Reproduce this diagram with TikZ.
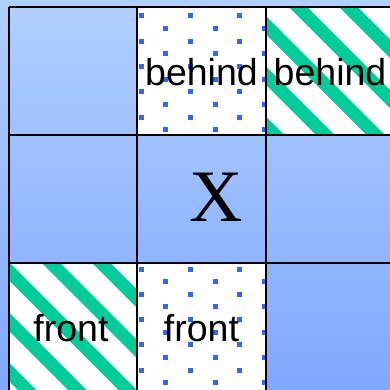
\documentclass[tikz,border=0pt]{standalone}
\usepackage{fontspec}
\setmainfont{Liberation Sans}
\newfontfamily\serifX{Liberation Serif}
\definecolor{bgtop}{RGB}{176,208,255}
\definecolor{bgbot}{RGB}{128,168,255}
\definecolor{stripegreen}{RGB}{0,204,153}
\definecolor{dotblue}{RGB}{51,102,255}
\tikzset{
  gridline/.style={draw=black,line width=2.6pt},
  label/.style={anchor=base,inner sep=0pt,font=\fontsize{37.5}{37.5}\selectfont},
  bigx/.style={anchor=base,inner sep=0pt,font=\serifX\fontsize{74}{74}\selectfont},
  stripe/.style={stripegreen,line width=13pt},
  dotsq/.style={fill=dotblue},
}
\begin{document}
\begin{tikzpicture}[x=1pt,y=-1pt]
\useasboundingbox (0,0) rectangle (390,390);
\clip (0,0) rectangle (390,390);
% background gradient
\shade[top color=bgtop,bottom color=bgbot] (0,0) rectangle (390,390);
% white patterned cells
\fill[white] (137,7) rectangle (266,135);
\fill[white] (266,7) rectangle (394,135);
\fill[white] (9,263) rectangle (137,391);
\fill[white] (137,263) rectangle (266,391);
% stripes
\begin{scope}
\clip (266,7) rectangle (394,135) (9,263) rectangle (137,391);
\foreach \n in {-16,...,4}{
  \pgfmathsetmacro{\c}{291+50.3*\n}
  \draw[stripe] (\c-20,-20) -- (\c+420,420);
}
\end{scope}
% dots
\begin{scope}
\clip (137,7) rectangle (266,135) (137,263) rectangle (266,391);
\foreach \k in {0,...,5}{
  \pgfmathsetmacro{\xx}{141+24.7*\k}
  \pgfmathsetmacro{\off}{mod(\k,2)==0 ? 16 : 28.6}
  \foreach \j in {-1,...,16}{
    \pgfmathsetmacro{\yy}{\off+25.3*\j}
    \fill[dotsq] (\xx-2.5,\yy-2.5) rectangle (\xx+2.5,\yy+2.5);
  }
}
\end{scope}
% grid
\foreach \x in {9,137,266,394} \draw[gridline] (\x,7) -- (\x,400);
\foreach \y in {7,135,263,391} \draw[gridline] (9,\y) -- (400,\y);
% texts
\node[label] (b1) at (201.5,86) {behind};
\node[label] (b2) at (330,86) {behind};
\node[label] (f1) at (71,341) {front};
\node[label] (f2) at (201.5,341) {front};
\node[bigx] (x) at (216,221) {X};
\end{tikzpicture}
\end{document}
